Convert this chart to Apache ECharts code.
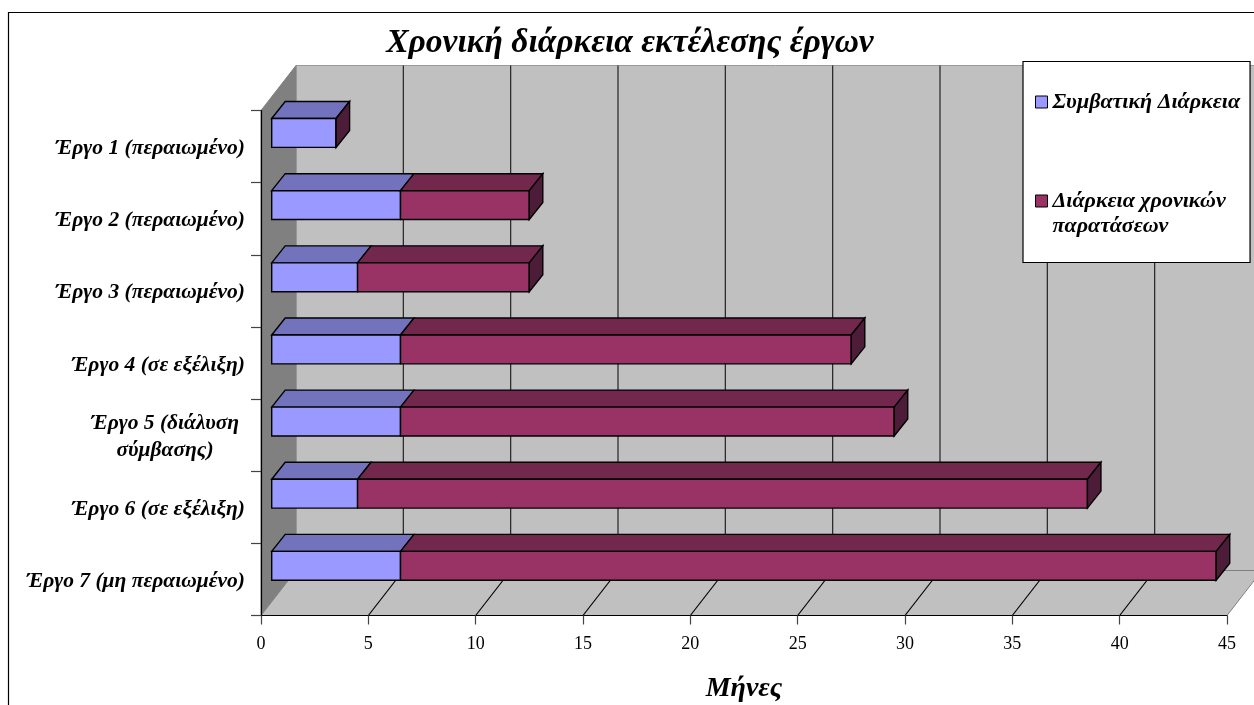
<!DOCTYPE html>
<html><head><meta charset="utf-8">
<style>html,body{margin:0;padding:0;background:#fff}#c{width:1254px;height:705px}</style>
<script src="https://cdn.jsdelivr.net/npm/echarts@6/dist/echarts.min.js"></script>
</head><body><div id="c"></div>
<script>
const categories = ['Έργο 1 (περαιωμένο)','Έργο 2 (περαιωμένο)','Έργο 3 (περαιωμένο)','Έργο 4 (σε εξέλιξη)','Έργο 5 (διάλυση\nσύμβασης)','Έργο 6 (σε εξέλιξη)','Έργο 7 (μη περαιωμένο)'];
const contractual = [3,6,4,6,6,4,6];
const extensions = [0,6,8,21,23,34,38];
const xTicks = [0,5,10,15,20,25,30,35,40,45];
const seriesNames = ['Συμβατική Διάρκεια','Διάρκεια χρονικών παρατάσεων'];

const FONT = '"Liberation Serif","Times New Roman",serif';
const DX = 35, DY = -45;                // depth of the chart box
const BX0 = 10.7, BY0 = -13.6;          // front plane of the bars
const BX1 = 13.5, BY1 = -17;            // bar depth

function poly(points, fill, stroke, lw) {
  return {type:'polygon', shape:{points}, style:{fill, stroke, lineWidth:lw===undefined?1.4:lw, lineJoin:'miter'}, silent:true};
}
function line(x1,y1,x2,y2,stroke) {
  return {type:'line', shape:{x1,y1,x2,y2}, style:{stroke, lineWidth:1.2}, silent:true};
}
function renderBox(params, api) {
  const cs = params.coordSys;
  const x0 = cs.x, y0 = cs.y, x1 = cs.x+cs.width, y1 = cs.y+cs.height;
  const kids = [
    poly([[x0+DX,y0+DY],[x1+DX,y0+DY],[x1+DX,y1+DY],[x0+DX,y1+DY]],'#C0C0C0','#9a9a9a',1),
    poly([[x0,y0],[x0+DX,y0+DY],[x0+DX,y1+DY],[x0,y1]],'#808080','#808080',1),
    poly([[x0,y1],[x0+DX,y1+DY],[x1+DX,y1+DY],[x1,y1]],'#C0C0C0','#808080',1)
  ];
  xTicks.forEach(t => {
    if (t === 0 || t === 45) return;
    const x = api.coord([t,0])[0];
    kids.push(line(x,y1,x+DX,y1+DY,'#000'));
    kids.push(line(x+DX,y0+DY,x+DX,y1+DY,'#222'));
  });
  return {type:'group', children:kids};
}
function makeBar(front, top, cap) {
  return function(params, api) {
    const a = api.coord([api.value(0), api.value(2)]);
    const b = api.coord([api.value(1), api.value(2)]);
    const band = api.size([0,1])[1];
    const h = band*0.4;
    const yc = a[1]+BY0;
    const t = yc-h/2, u = yc+h/2;
    const l = a[0]+BX0, r = b[0]+BX0;
    const kids = [
      poly([[l,t],[l+BX1,t+BY1],[r+BX1,t+BY1],[r,t]],top,'#000'),
      poly([[l,t],[r,t],[r,u],[l,u]],front,'#000')
    ];
    if (cap) kids.push(poly([[r,t],[r+BX1,t+BY1],[r+BX1,u+BY1],[r,u]],cap,'#000'));
    return {type:'group', children:kids};
  };
}
const blueData = contractual.map((v,i)=>[0,v,i]);
const redData = extensions.map((v,i)=>[contractual[i],contractual[i]+v,i]);

const chart = echarts.init(document.getElementById('c'),null,{renderer:'canvas'});
chart.setOption({
  animation:false,
  backgroundColor:'#fff',
  textStyle:{fontFamily:FONT},
  title:{text:'Χρονική διάρκεια εκτέλεσης έργων', left:625, top:21, textAlign:'center',
    textStyle:{fontFamily:FONT,fontSize:33.5,fontWeight:'bold',fontStyle:'italic',color:'#000'}},
  grid:{left:261,right:27,top:110.5,height:505,containLabel:false,outerBoundsMode:'none'},
  xAxis:{type:'value',min:0,max:45,interval:5,z:10,
    name:'Μήνες',nameLocation:'middle',nameGap:59,
    nameTextStyle:{fontFamily:FONT,fontSize:28,fontWeight:'bold',fontStyle:'italic',color:'#000'},
    axisLine:{show:true,lineStyle:{color:'#000',width:1.2}},
    axisTick:{show:true,length:9,lineStyle:{color:'#444',width:1.2}},
    axisLabel:{fontFamily:FONT,fontSize:18,color:'#000',margin:20,showMinLabel:true,showMaxLabel:true},
    splitLine:{show:false}},
  yAxis:{type:'category',inverse:true,data:categories,z:10,
    axisLine:{show:true,lineStyle:{color:'#000',width:1.2}},
    axisTick:{show:true,length:10,alignWithLabel:false,lineStyle:{color:'#444',width:1.2}},
    axisLabel:{fontFamily:FONT,fontSize:21.5,fontWeight:'bold',fontStyle:'italic',color:'#000',margin:16,interval:0,padding:[4,0,0,0],
      formatter:v=>v.indexOf('\n')>=0?v.split('\n').map(s=>'{c|'+s+'}').join('\n'):v,
      rich:{c:{fontFamily:FONT,fontSize:21.5,fontWeight:'bold',fontStyle:'italic',color:'#000',width:160,align:'center',lineHeight:27}}},
    splitLine:{show:false}},
  legend:{data:seriesNames,orient:'vertical',left:1023,top:61.5,align:'left',
    backgroundColor:'#fff',borderColor:'#000',borderWidth:1.2,
    padding:[28,10,24,12],itemGap:49,itemWidth:12,itemHeight:12,itemStyle:{borderColor:'#000',borderWidth:1},
    icon:'rect',selectedMode:false,z:20,
    textStyle:{fontFamily:FONT,fontSize:22,fontWeight:'bold',fontStyle:'italic',color:'#000',lineHeight:25,padding:[0,0,0,0]},
    formatter:n=>n===seriesNames[1]?'\nΔιάρκεια χρονικών\nπαρατάσεων':n},
  graphic:[{type:'polyline',silent:true,z:30,shape:{points:[[8.5,705],[8.5,12.5],[1254,12.5]]},style:{fill:null,stroke:'#000',lineWidth:1.2}}],
  series:[
    {type:'custom',name:'box',z:1,silent:true,renderItem:renderBox,data:[[0,0,0]],encode:{x:0,y:2},clip:false,tooltip:{show:false}},
    {type:'custom',name:seriesNames[0],z:2,silent:true,renderItem:makeBar('#9999FF','#7373BD',null),data:blueData,encode:{x:[0,1],y:2},itemStyle:{color:'#9999FF'},clip:false},
    {type:'custom',name:seriesNames[1],z:3,silent:true,renderItem:makeBar('#993366','#72274C','#4D1C39'),data:redData,encode:{x:[0,1],y:2},itemStyle:{color:'#993366'},clip:false}
  ]
});
</script></body></html>
